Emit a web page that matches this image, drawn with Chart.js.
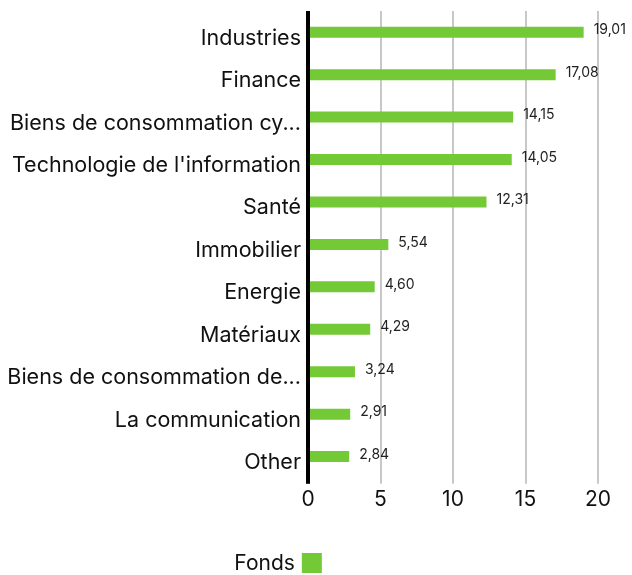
<!DOCTYPE html>
<html>
<head>
<meta charset="utf-8">
<script src="https://cdn.jsdelivr.net/npm/chart.js@4"></script>
<style>
  html, body { margin: 0; padding: 0; background: #fff; }
  #wrap { width: 632px; height: 575px; position: relative; }
</style>
</head>
<body>
<div id="wrap"><canvas id="c"></canvas></div>
<script>
const sectors = [
  'Industries', 'Finance', 'Biens de consommation cy...', "Technologie de l'information",
  'Santé', 'Immobilier', 'Energie', 'Matériaux',
  'Biens de consommation de...', 'La communication', 'Other'
];
const fonds = [19.01, 17.08, 14.15, 14.05, 12.31, 5.54, 4.60, 4.29, 3.24, 2.91, 2.84];
const xTicks = [0, 5, 10, 15, 20];
const seriesName = 'Fonds';

const FONT = 'Inter, "Noto Sans", sans-serif';
const GREEN = '#74c936';

const valueLabels = {
  id: 'valueLabels',
  afterDatasetsDraw(chart) {
    const ctx = chart.ctx;
    const meta = chart.getDatasetMeta(0);
    ctx.save();
    ctx.font = '14px ' + FONT;
    ctx.fillStyle = '#222';
    ctx.textAlign = 'left';
    ctx.textBaseline = 'middle';
    meta.data.forEach((bar, i) => {
      const v = chart.data.datasets[0].data[i];
      ctx.fillText(v.toFixed(2).replace('.', ','), bar.x + 10, bar.y - 2);
    });
    ctx.restore();
  }
};

const bottomLegend = {
  id: 'bottomLegend',
  afterDraw(chart) {
    const ctx = chart.ctx;
    const ds = chart.data.datasets[0];
    ctx.save();
    ctx.font = '21px ' + FONT;
    const tw = ctx.measureText(ds.label).width;
    const box = 20, gap = 7;
    const total = tw + gap + box;
    const x0 = chart.width * 0.44 - total / 2;
    const yc = chart.height - 12;
    ctx.fillStyle = '#111';
    ctx.textBaseline = 'middle';
    ctx.fillText(ds.label, x0, yc + 1);
    ctx.fillStyle = ds.backgroundColor;
    ctx.fillRect(x0 + tw + gap, yc - box / 2, box, box);
    ctx.restore();
  }
};

new Chart(document.getElementById('c').getContext('2d'), {
  type: 'bar',
  data: {
    labels: sectors,
    datasets: [{
      label: seriesName,
      data: fonds,
      backgroundColor: GREEN,
      borderWidth: 0,
      barPercentage: 0.26,
      categoryPercentage: 1,
    }],
  },
  options: {
    indexAxis: 'y',
    responsive: true,
    maintainAspectRatio: false,
    animation: false,
    layout: { padding: { top: 11, right: 34, bottom: 60, left: 0 } },
    plugins: { legend: { display: false }, tooltip: { enabled: false } },
    scales: {
      x: {
        min: 0,
        max: 20,
        afterBuildTicks: s => { s.ticks = xTicks.map(v => ({ value: v })); },
        ticks: { font: { family: FONT, size: 21 }, color: '#111', padding: 3 },
        grid: {
          color: c => c.tick && c.tick.value === 0 ? '#000' : '#c8c8c8',
          lineWidth: c => c.tick && c.tick.value === 0 ? 4 : 2,
          tickLength: 6,
          tickColor: c => c.tick && c.tick.value === 0 ? '#000' : '#c8c8c8',
        },
        border: { display: false },
      },
      y: {
        afterFit: s => { s.width = 308; s.paddingTop = 0; s.paddingBottom = 0; },
        ticks: { font: { family: FONT, size: 21.5 }, color: '#111', padding: 7, labelOffset: 6 },
        grid: { display: false, drawTicks: false },
        border: { display: false },
      },
    },
  },
  plugins: [valueLabels, bottomLegend],
});
</script>
</body>
</html>
